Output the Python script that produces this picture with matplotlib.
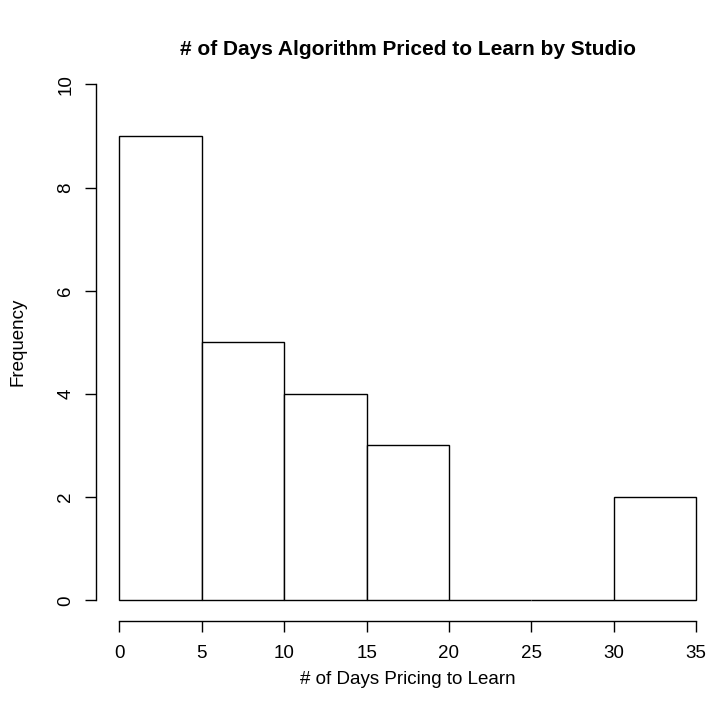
import matplotlib.pyplot as plt

# histogram bins and counts
bin_edges = [0, 5, 10, 15, 20, 25, 30, 35]
counts = [9, 5, 4, 3, 0, 0, 2]
x_ticks = [0, 5, 10, 15, 20, 25, 30, 35]
y_ticks = [0, 2, 4, 6, 8, 10]

plt.rcParams['font.family'] = ['Liberation Sans', 'DejaVu Sans']

fig = plt.figure(figsize=(7.07, 7.11), dpi=100)
ax = fig.add_axes([0.1364, 0.1267, 0.8808, 0.7837])

widths = [bin_edges[i + 1] - bin_edges[i] for i in range(len(counts))]
ax.bar(bin_edges[:-1], counts, width=widths, align='edge',
       facecolor='white', edgecolor='black', linewidth=1.0)

ax.set_xlim(-1.4, 36.4)
ax.set_ylim(-0.4, 10.4)

for s in ['top', 'right']:
    ax.spines[s].set_visible(False)
ax.spines['bottom'].set_bounds(0, 35)
ax.spines['left'].set_bounds(0, 10)
for s in ['bottom', 'left']:
    ax.spines[s].set_linewidth(1.0)

ax.set_xticks(x_ticks)
ax.set_yticks(y_ticks)
ax.set_yticklabels([str(v) for v in y_ticks], rotation=90, va='center')
ax.tick_params(direction='out', length=8, width=1.0, labelsize=13.5)
ax.tick_params(axis='x', pad=9)
ax.tick_params(axis='y', pad=8)

ax.set_xlabel('# of Days Pricing to Learn', fontsize=13.5, labelpad=7)
ax.set_ylabel('Frequency', fontsize=13.5, labelpad=22)
ax.set_title('# of Days Algorithm Priced to Learn by Studio',
             fontsize=15, fontweight='bold', pad=6)

fig.savefig('out.png', dpi=100)
